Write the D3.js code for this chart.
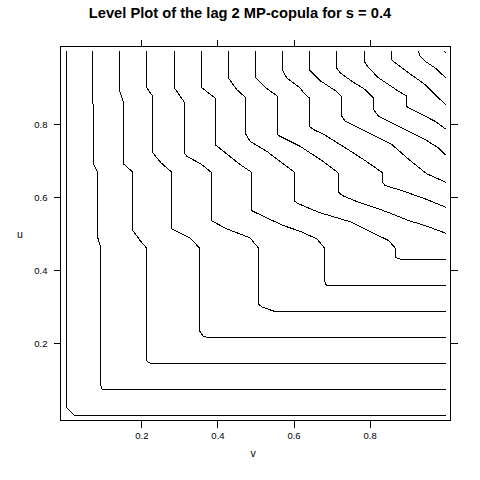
<!DOCTYPE html>
<html>
<head>
<meta charset="utf-8">
<script src="https://cdn.jsdelivr.net/npm/d3@7"></script>
<style>
  body { margin: 0; background: #fff; }
  svg { display: block; font-family: "Liberation Sans", Arial, sans-serif; }
</style>
</head>
<body>
<svg width="480" height="480"></svg>
<script>
// contour levels (k/14) and the traced level lines, as [v, u] pairs
var levels = [0, 0.071, 0.143, 0.214, 0.286, 0.357, 0.429, 0.5, 0.571, 0.643, 0.714, 0.786, 0.857, 0.929, 1];

var line0 = [[0.002,1],[0.002,0.025],[0.025,0.001],[1,0.001]];
var line1 = [[0.0715,1],[0.0715,0.86],[0.073,0.855],[0.073,0.6925],[0.085,0.668],[0.085,0.49],[0.092,0.467],[0.092,0.086],[0.098,0.0715],[1,0.0715]];
var line2 = [[0.1424,1],[0.1424,0.8918],[0.1529,0.8597],[0.1529,0.6909],[0.1776,0.6679],[0.1776,0.5081],[0.1967,0.4807],[0.2125,0.4615],[0.2125,0.1518],[0.2256,0.1428],[1,0.1428]];
var line3 = [[0.2143,1],[0.2143,0.8992],[0.2301,0.8761],[0.2301,0.721],[0.2519,0.6936],[0.28,0.6679],[0.28,0.5127],[0.328,0.4881],[0.3524,0.4607],[0.3524,0.234],[0.3629,0.2176],[0.3805,0.214],[1,0.214]];
var line4 = [[0.2868,1],[0.2868,0.8992],[0.3123,0.8608],[0.3123,0.721],[0.3194,0.7117],[0.3543,0.6917],[0.3674,0.6816],[0.3831,0.6679],[0.3831,0.5355],[0.4244,0.5127],[0.4855,0.4881],[0.5073,0.4607],[0.5073,0.3072],[0.517,0.2985],[0.5513,0.2861],[1,0.2861]];
var line5 = [[0.3569,1],[0.3569,0.9008],[0.3937,0.8718],[0.3937,0.7438],[0.4593,0.689],[0.49,0.6679],[0.49,0.5626],[0.5294,0.5429],[0.573,0.5218],[0.6169,0.5062],[0.6614,0.4853],[0.6811,0.4607],[0.6811,0.3711],[0.6864,0.3574],[1,0.3574]];
var line6 = [[0.4286,1],[0.4286,0.9266],[0.4506,0.8945],[0.475,0.8718],[0.475,0.7712],[0.4855,0.7528],[0.5294,0.7254],[0.5642,0.698],[0.6024,0.6679],[0.6024,0.5884],[0.6134,0.5813],[0.6659,0.5582],[0.7533,0.5308],[0.8321,0.4897],[0.8497,0.4807],[0.867,0.4607],[0.867,0.4349],[0.8759,0.4305],[0.8933,0.4278],[1,0.4278]];
var line7 = [[0.5005,1],[0.5005,0.9266],[0.5249,0.9008],[0.5583,0.8761],[0.5583,0.7712],[0.5642,0.7665],[0.6169,0.7391],[0.6746,0.6999],[0.7155,0.6679],[0.7181,0.6643],[0.7181,0.613],[0.7286,0.604],[0.7709,0.5856],[0.8234,0.5676],[0.8584,0.5539],[0.9022,0.5355],[0.9458,0.5218],[1,0.5007]];
var line8 = [[0.5703,1],[0.5703,0.9493],[0.5819,0.9266],[0.6169,0.8992],[0.6307,0.8808],[0.6412,0.8717],[0.6412,0.7939],[0.6528,0.7849],[0.6832,0.7693],[0.7351,0.7355],[0.7882,0.6999],[0.8321,0.6679],[0.8339,0.6643],[0.8339,0.6405],[0.8407,0.6314],[0.8846,0.6177],[0.9458,0.595],[1,0.5719]];
var line9 = [[0.6412,1],[0.6412,0.9493],[0.6693,0.9192],[0.7095,0.8918],[0.7263,0.8761],[0.7271,0.8717],[0.7271,0.8213],[0.7357,0.8076],[0.7709,0.7895],[0.8145,0.7665],[0.8584,0.7438],[0.9064,0.6999],[0.9502,0.6635],[1,0.6405]];
var line10 = [[0.7132,1],[0.7132,0.954],[0.7226,0.9403],[0.7533,0.9172],[0.7882,0.8945],[0.8103,0.8717],[0.8103,0.8397],[0.8234,0.8213],[0.8584,0.8032],[0.9022,0.7802],[0.9458,0.7574],[0.9809,0.7347],[1,0.7144]];
var line11 = [[0.7856,1],[0.7856,0.972],[0.7972,0.954],[0.8234,0.9266],[0.8497,0.9082],[0.8759,0.8898],[0.8977,0.8761],[0.8977,0.8487],[0.9022,0.8443],[0.9284,0.8306],[0.972,0.8076],[1,0.786]];
var line12 = [[0.8576,1],[0.8576,0.9767],[0.867,0.9677],[0.9022,0.9403],[0.9458,0.9082],[0.9809,0.8717],[1,0.8534]];
var line13 = [[0.9284,1],[0.9326,0.9858],[0.9458,0.972],[0.972,0.954],[1,0.9266]];
var line14 = [[0.9955,1],[1,0.9945]];

var contourLines = [line0, line1, line2, line3, line4, line5, line6, line7,
                    line8, line9, line10, line11, line12, line13, line14];

var xTicks = [0.2, 0.4, 0.6, 0.8];
var yTicks = [0.2, 0.4, 0.6, 0.8];

var svg = d3.select("svg");

// panel scales (data range 0..1 padded by half a grid cell)
var x = d3.scaleLinear().domain([-0.0125, 1.0125]).range([60.5, 450.5]);
var y = d3.scaleLinear().domain([-0.0125, 1.0125]).range([420.5, 46.5]);

var line = d3.line()
    .x(function(d) { return x(d[0]); })
    .y(function(d) { return y(d[1]); });

// title
svg.append("text")
    .attr("x", 240)
    .attr("y", 18)
    .attr("text-anchor", "middle")
    .attr("font-size", "14.7px")
    .attr("font-weight", "bold")
    .text("Level Plot of the lag 2 MP-copula for s = 0.4");

// contour lines
svg.append("g")
    .attr("class", "contours")
    .selectAll("path")
    .data(contourLines)
    .enter().append("path")
    .attr("d", line)
    .attr("fill", "none")
    .attr("stroke", "#000")
    .attr("stroke-width", 1)
    .attr("shape-rendering", "crispEdges");

// axes: labels on bottom and left, plain ticks on top and right
function styleAxis(g) {
  g.select(".domain").remove();
  g.selectAll(".tick line").attr("stroke", "#000").attr("shape-rendering", "crispEdges");
  g.selectAll(".tick text").attr("fill", "#000").attr("font-size", "9.5px")
    .attr("font-family", "Liberation Sans, Arial, sans-serif");
}

svg.append("g")
    .attr("transform", "translate(0,420.5)")
    .call(d3.axisBottom(x).tickValues(xTicks).tickSize(7).tickPadding(5).tickFormat(d3.format(".1f")))
    .call(styleAxis);

svg.append("g")
    .attr("transform", "translate(0,46.5)")
    .call(d3.axisTop(x).tickValues(xTicks).tickSize(7).tickFormat(""))
    .call(styleAxis);

svg.append("g")
    .attr("transform", "translate(60.5,0)")
    .call(d3.axisLeft(y).tickValues(yTicks).tickSize(7).tickPadding(6).tickFormat(d3.format(".1f")))
    .call(styleAxis);

svg.append("g")
    .attr("transform", "translate(450.5,0)")
    .call(d3.axisRight(y).tickValues(yTicks).tickSize(7).tickFormat(""))
    .call(styleAxis);

// panel border
svg.append("rect")
    .attr("x", 60.5)
    .attr("y", 46.5)
    .attr("width", 390)
    .attr("height", 374)
    .attr("fill", "none")
    .attr("stroke", "#000")
    .attr("shape-rendering", "crispEdges");

// axis titles
svg.append("text")
    .attr("x", 253)
    .attr("y", 457)
    .attr("text-anchor", "middle")
    .attr("font-size", "10.5px")
    .attr("fill", "#000")
    .text("v");

svg.append("text")
    .attr("x", 20)
    .attr("y", 238)
    .attr("text-anchor", "middle")
    .attr("font-size", "10.5px")
    .attr("fill", "#000")
    .text("u");
</script>
</body>
</html>
